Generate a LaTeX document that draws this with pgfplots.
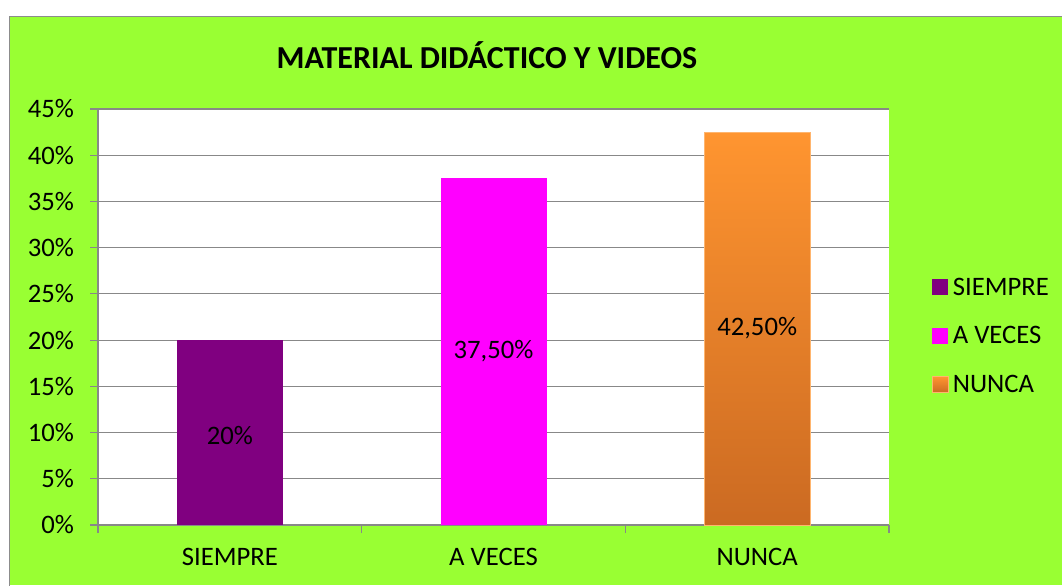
\documentclass[border=0pt]{standalone}
\usepackage{pgfplots}
\pgfplotsset{compat=1.18}
\usepackage{fontspec}
\setmainfont{Carlito}
\definecolor{bggreen}{HTML}{99FF33}
\definecolor{framec}{HTML}{8C8C8C}
\definecolor{gridc}{HTML}{888888}
\definecolor{siempre}{HTML}{800080}
\definecolor{aveces}{HTML}{FF00FF}
\definecolor{ntop}{HTML}{FF9530}
\definecolor{nbot}{HTML}{CB6A22}
\begin{document}
\begin{tikzpicture}[x=0.75pt,y=0.75pt]
\path[use as bounding box, fill=white] (0,0) rectangle (1062,585);
\fill[bggreen] (9,0) rectangle (1062,569);
\draw[framec, line width=1.2pt] (9.5,-2) -- (9.5,568.5) -- (1064,568.5);
\node[font=\fontsize{24}{28}\selectfont\bfseries] at (487,530) {MATERIAL DIDÁCTICO Y VIDEOS};
\begin{axis}[
  at={(73.5pt,45pt)}, anchor=south west,
  width=593.25pt, height=312pt, scale only axis,
  xmin=-0.5, xmax=2.5, ymin=0, ymax=45,
  xtick={-0.5,0.5,1.5,2.5},
  xticklabels={SIEMPRE,A VECES,NUNCA},
  x tick label as interval,
  ytick={0,5,...,45},
  yticklabel={\pgfmathprintnumber{\tick}\%},
  axis x line*=bottom, axis y line*=left,
  axis line style={gridc, line width=0.9pt, -},
  tick align=outside, major tick length=6pt,
  tick style={gridc, line width=0.9pt},
  ymajorgrids, grid style={gridc, line width=0.9pt},
  axis background/.style={fill=white},
  tick label style={font=\fontsize{20}{24}\selectfont},
  yticklabel style={xshift=-8.5pt},
  xticklabel style={yshift=-8pt},
  /pgf/number format/assume math mode=true,
  ybar, bar width=79.5pt, bar shift=0pt,
  legend style={at={(1.054,0.454)}, anchor=west, draw=none, fill=none,
    font=\fontsize{20}{24}\selectfont, row sep=18pt, inner sep=0pt},
  legend cell align=left,
  legend image code/.code={\fill[#1] (0pt,-6pt) rectangle (12pt,6pt); \path (13pt,0pt);},
]
\addplot[fill=siempre, draw=none] coordinates {(0,20)};
\addlegendentry{SIEMPRE}
\addplot[fill=aveces, draw=none] coordinates {(1,37.5)};
\addlegendentry{A VECES}
\addplot[top color=ntop, bottom color=nbot, draw=ntop!70!white, line width=0.6pt] coordinates {(2,42.5)};
\addlegendentry{NUNCA}
\node[font=\fontsize{20}{24}\selectfont] at (axis cs:0,9.7) {20\%};
\node[font=\fontsize{20}{24}\selectfont] at (axis cs:1,18.8) {37,50\%};
\node[font=\fontsize{20}{24}\selectfont] at (axis cs:2,21.3) {42,50\%};
\end{axis}
\end{tikzpicture}
\end{document}
